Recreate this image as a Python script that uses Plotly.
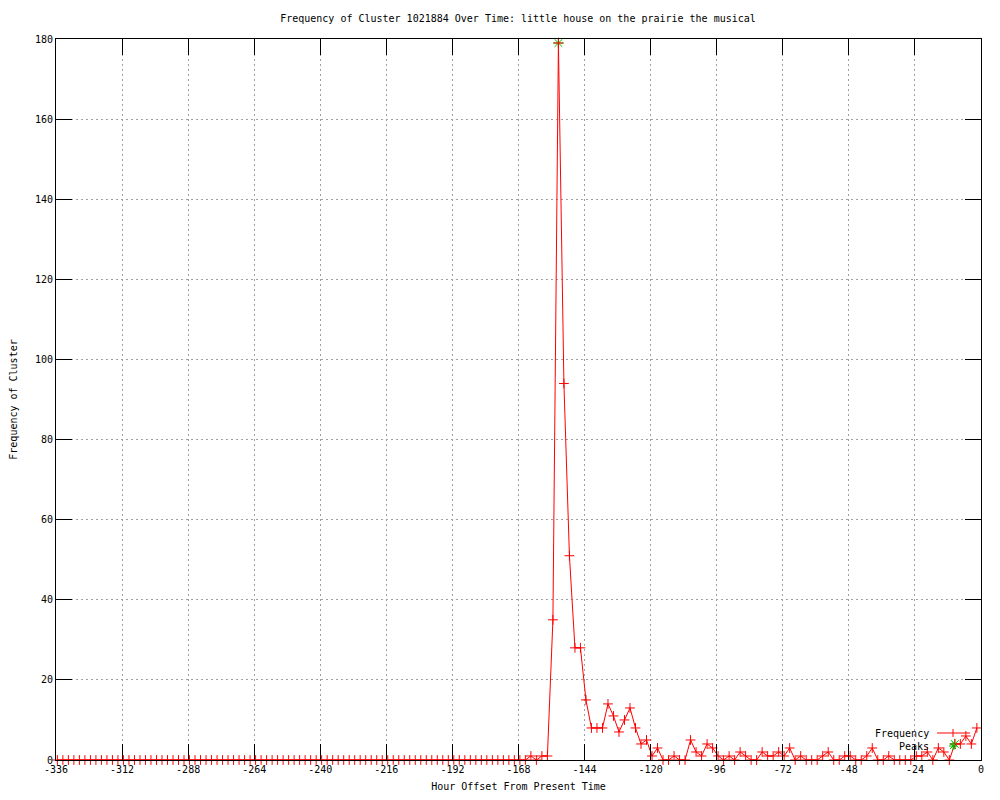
"""Frequency of a cluster over time, gnuplot-style line chart with peak markers."""
import plotly.graph_objects as go

TITLE = "Frequency of Cluster 1021884 Over Time: little house on the prairie the musical"
X_LABEL = "Hour Offset From Present Time"
Y_LABEL = "Frequency of Cluster"

# hour offsets of each 2-hour sample
hours = [-335.5 + 2 * i for i in range(168)]

# counts per sample
frequency = (
    [0] * 84
    + [0, 0, 1, 0, 1, 1, 35, 179, 94, 51,
       28, 28, 15, 8, 8, 8, 14, 11, 7, 10,
       13, 8, 4, 5, 1, 3, 0, 0, 1, 0,
       0, 5, 2, 1, 4, 3, 1, 0, 1, 0,
       2, 1, 0, 0, 2, 1, 1, 2, 1, 3,
       0, 1, 0, 0, 0, 1, 2, 0, 0, 1,
       1, 0, 0, 1, 3, 0, 0, 1, 0, 0,
       0, 0, 1, 1, 2, 0, 3, 2, 0, 4,
       4, 6, 4, 8]
)

peak_hours = [-153.5, -9.5]
peak_values = [179, 4]

x_ticks = list(range(-336, 1, 24))
x_ticktext = [str(v) for v in x_ticks]
y_ticks = list(range(0, 181, 20))

FONT = "DejaVu Sans Mono"
RED = "#ff0000"
GREEN = "#00c000"

fig = go.Figure()
fig.add_trace(go.Scatter(
    x=peak_hours, y=peak_values, mode="markers", name="Peaks",
    marker=dict(symbol="asterisk-open", size=9, color=GREEN,
                line=dict(color=GREEN, width=1)),
    cliponaxis=False,
))
fig.add_trace(go.Scatter(
    x=hours, y=frequency, mode="lines+markers", name="Frequency",
    line=dict(color=RED, width=1),
    marker=dict(symbol="cross-thin", size=7, color=RED,
                line=dict(color=RED, width=1)),
    cliponaxis=False,
))

# gnuplot-style key: text on the left, sample on the right
px = lambda p: (p - 56) / 925
py = lambda p: (760 - p) / 721
shapes = [
    dict(type="line", xref="paper", yref="paper",
         x0=px(937), x1=px(970), y0=py(733), y1=py(733),
         line=dict(color=RED, width=1)),
    dict(type="line", xref="paper", yref="paper",
         x0=px(953), x1=px(953), y0=py(729), y1=py(737),
         line=dict(color=RED, width=1)),
    dict(type="line", xref="paper", yref="paper",
         x0=px(953), x1=px(953), y0=py(742), y1=py(750),
         line=dict(color=GREEN, width=1)),
    dict(type="line", xref="paper", yref="paper",
         x0=px(949), x1=px(957), y0=py(746), y1=py(746),
         line=dict(color=GREEN, width=1)),
    dict(type="line", xref="paper", yref="paper",
         x0=px(950), x1=px(956), y0=py(743), y1=py(749),
         line=dict(color=GREEN, width=1)),
    dict(type="line", xref="paper", yref="paper",
         x0=px(950), x1=px(956), y0=py(749), y1=py(743),
         line=dict(color=GREEN, width=1)),
]
annotations = [
    dict(text="Frequency", xref="paper", yref="paper", x=px(931), y=py(733),
         xanchor="right", yanchor="middle", showarrow=False,
         font=dict(family=FONT, size=10, color="black")),
    dict(text="Peaks", xref="paper", yref="paper", x=px(931), y=py(746),
         xanchor="right", yanchor="middle", showarrow=False,
         font=dict(family=FONT, size=10, color="black")),
]

axis_common = dict(
    showline=True, linecolor="black", linewidth=1, mirror="ticks",
    ticks="inside", ticklen=16, tickcolor="black", tickwidth=1,
    showgrid=True, gridcolor="#a0a0a0", griddash="2px,3px", gridwidth=1,
    zeroline=False, automargin=False,
    tickfont=dict(family=FONT, size=10, color="black"),
)

# page body has an 8px margin, so the plot box sits 8px in from the shot
fig.update_layout(
    width=1000, height=800,
    paper_bgcolor="white", plot_bgcolor="white",
    margin=dict(l=48, r=27, t=31, b=48),
    showlegend=False,
    title=dict(text=TITLE, x=0.51, xanchor="center", y=0.9875, yanchor="middle",
               font=dict(family=FONT, size=10, color="black")),
    font=dict(family=FONT, size=10, color="black"),
    xaxis=dict(range=[-336, 0], tickvals=x_ticks, ticktext=x_ticktext,
               title=dict(text=X_LABEL, standoff=8,
                          font=dict(family=FONT, size=10)),
               **axis_common),
    yaxis=dict(range=[0, 180], tickvals=y_ticks,
               title=dict(text=Y_LABEL, standoff=15,
                          font=dict(family=FONT, size=10)),
               **axis_common),
    shapes=shapes,
    annotations=annotations,
)

fig.write_html("out.html")
